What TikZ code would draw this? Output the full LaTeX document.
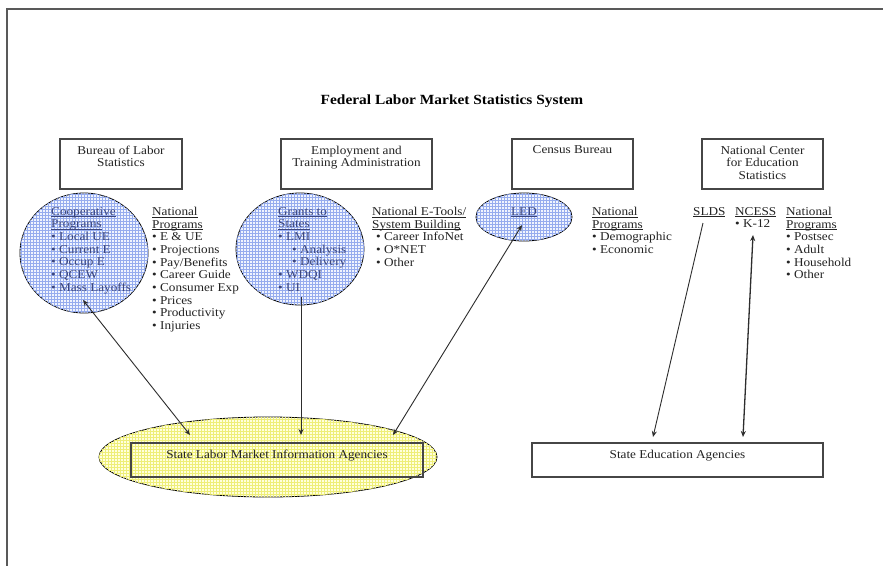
\documentclass[tikz,border=0pt]{standalone}
\usepackage{fontspec}
\setmainfont{Liberation Serif}[FakeStretch=1.1]
\usetikzlibrary{shapes.geometric,patterns,arrows.meta}
\newcommand\bodyfont{\fontsize{12}{12.65}\selectfont}
\newcommand\headfont{\fontsize{14}{16}\selectfont\bfseries}
\newcommand\ulx[1]{\underline{\raisebox{0pt}[\height][0pt]{#1}}}
\definecolor{txt}{RGB}{35,35,35}
\definecolor{ctxt}{RGB}{60,70,125}
\definecolor{bluefill}{RGB}{240,244,254}
\definecolor{bluegrid}{RGB}{150,172,238}
\definecolor{yelfill}{RGB}{255,255,220}
\definecolor{yelgrid}{RGB}{238,238,120}
\definecolor{boxc}{RGB}{70,70,70}
\definecolor{arr}{RGB}{45,45,45}
\begin{document}
\begin{tikzpicture}[x=1pt,y=-1pt,
  lbl/.style={inner sep=0pt, anchor=north west, align=left, font=\bodyfont, text=txt},
  clbl/.style={lbl, text=ctxt},
  hdr/.style={inner sep=0pt, anchor=north, align=center, font=\bodyfont, text=txt},
  agency/.style={draw=boxc, line width=1.3pt, inner sep=0pt},
  blob/.style={ellipse, draw=black, line width=0.8pt, inner sep=0pt, fill=bluefill, postaction={pattern=grid, pattern color=bluegrid}},
  yblob/.style={ellipse, draw=black, line width=0.8pt, inner sep=0pt, fill=yelfill, postaction={pattern=grid, pattern color=yelgrid}},
  conn/.style={draw=arr, line width=0.9pt, -{Stealth[length=6pt,width=5pt]}},
  biconn/.style={draw=arr, line width=0.9pt, {Stealth[length=6pt,width=5pt]}-{Stealth[length=6pt,width=5pt]}}
]
\useasboundingbox (0,0) rectangle (883,566);
\fill[white] (0,0) rectangle (883,566);
% page frame
\coordinate (fr1) at (883,9);
\coordinate (fr2) at (7,9);
\coordinate (fr3) at (7,566);
\draw[draw=black!65, line width=1.2pt] (fr1) -- (fr2) -- (fr3);

% title
\node[inner sep=0pt, font=\headfont, text=black] (title) at (452,101) {Federal Labor Market Statistics System};

% agency boxes
\node[agency, minimum width=122pt, minimum height=50pt] (bls) at (121,164) {};
\node[hdr] (blsT) at (121,145.5) {Bureau of Labor\\Statistics};
\node[agency, minimum width=151pt, minimum height=50pt] (eta) at (356.5,164) {};
\node[hdr] (etaT) at (356.5,145.5) {Employment and\\Training Administration};
\node[agency, minimum width=121pt, minimum height=50pt] (cen) at (572.5,164) {};
\node[hdr] (cenT) at (572.5,145.5) {Census Bureau};
\node[agency, minimum width=121pt, minimum height=50pt] (nces) at (762.5,164) {};
\node[hdr] (ncesT) at (762.5,145.5) {National Center\\for Education\\Statistics};

% ellipses
\node[blob, minimum width=128pt, minimum height=120pt] (blsc) at (84,253) {};
\node[clbl] (blsL) at (51,207) {\ulx{Cooperative}\\\ulx{Programs}\\\textbullet{} Local UE\\\textbullet{} Current E\\\textbullet{} Occup E\\\textbullet{} QCEW\\\textbullet{} Mass Layoffs};
\node[blob, minimum width=128pt, minimum height=112pt] (etac) at (300,249) {};
\node[clbl] (etaL) at (278,207) {\ulx{Grants to}\\\ulx{States}\\\textbullet{} LMI\\\hspace*{14pt}\textbullet{} Analysis\\\hspace*{14pt}\textbullet{} Delivery\\\textbullet{} WDQI\\\textbullet{} UI};
\node[blob, minimum width=96pt, minimum height=48pt] (ledc) at (524,217) {};
\node[clbl, anchor=north] (ledL) at (524,207) {\ulx{LED}};

% national program lists
\node[lbl] (blsN) at (152,207) {\ulx{National}\\\ulx{Programs}\\\textbullet{} E \& UE\\\textbullet{} Projections\\\textbullet{} Pay/Benefits\\\textbullet{} Career Guide\\\textbullet{} Consumer Exp\\\textbullet{} Prices\\\textbullet{} Productivity\\\textbullet{} Injuries};
\node[lbl] (etaN) at (372,207) {\ulx{National E-Tools/}\\\ulx{System Building}\\\hspace*{4pt}\textbullet{} Career InfoNet\\\hspace*{4pt}\textbullet{} O*NET\\\hspace*{4pt}\textbullet{} Other};
\node[lbl] (cenN) at (592,207) {\ulx{National}\\\ulx{Programs}\\\textbullet{} Demographic\\\textbullet{} Economic};
\node[lbl] (slds) at (693,207) {\ulx{SLDS}};
\node[lbl] (ncess) at (735,207) {\ulx{NCESS}\\\textbullet{} K-12};
\node[lbl] (ncesN) at (786,207) {\ulx{National}\\\ulx{Programs}\\\textbullet{} Postsec\\\textbullet{} Adult\\\textbullet{} Household\\\textbullet{} Other};

% state agencies
\node[yblob, minimum width=338pt, minimum height=80pt] (slmic) at (268,457) {};
\node[draw=boxc, line width=1.5pt, inner sep=0pt, minimum width=292pt, minimum height=34pt] (slmi) at (277,460) {};
\node[hdr] (slmiT) at (277,449.5) {State Labor Market Information Agencies};
\node[agency, minimum width=291pt, minimum height=34pt] (sea) at (677.5,460) {};
\node[hdr] (seaT) at (677.5,449.5) {State Education Agencies};

% connector ends
\coordinate (a1s) at (83,300);  \coordinate (a1e) at (190,435);
\coordinate (a2s) at (301,297); \coordinate (a2e) at (301,435);
\coordinate (a3s) at (522,225); \coordinate (a3e) at (393,435);
\coordinate (a4s) at (703,223); \coordinate (a4e) at (653,437);
\coordinate (a5s) at (753,235); \coordinate (a5e) at (743,437);

\draw[biconn] (a1s) -- (a1e);
\draw[conn] (a2s) -- (a2e);
\draw[biconn] (a3s) -- (a3e);
\draw[conn] (a4s) -- (a4e);
\draw[biconn, line width=1.3pt] (a5s) -- (a5e);
\end{tikzpicture}
\end{document}
